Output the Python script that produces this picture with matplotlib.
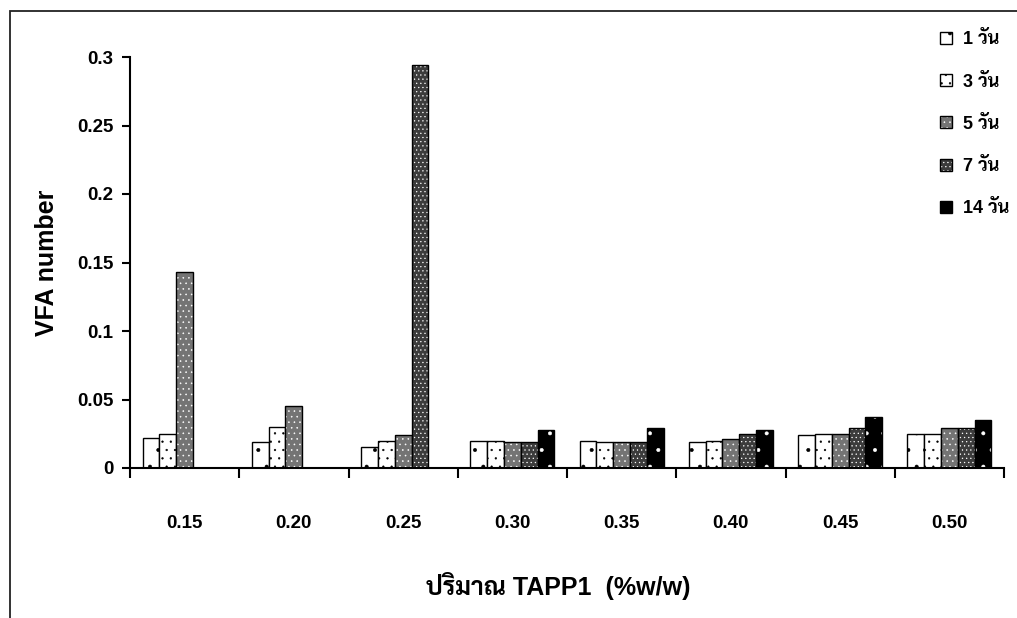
import numpy as np
import matplotlib
matplotlib.use('Agg')
import matplotlib.pyplot as plt
from matplotlib import font_manager
from matplotlib.patches import Patch, Rectangle

# VFA number vs. TAPP1 dose, one bar per storage time
doses = ['0.15', '0.20', '0.25', '0.30', '0.35', '0.40', '0.45', '0.50']
series = ['1 วัน', '3 วัน', '5 วัน', '7 วัน', '14 วัน']
day1 = [0.022, 0.019, 0.015, 0.020, 0.020, 0.019, 0.024, 0.025]
day3 = [0.025, 0.030, 0.020, 0.020, 0.019, 0.020, 0.025, 0.025]
day5 = [0.143, 0.045, 0.024, 0.019, 0.019, 0.021, 0.025, 0.029]
day7 = [np.nan, np.nan, 0.294, 0.019, 0.019, 0.025, 0.029, 0.029]
day14 = [np.nan, np.nan, np.nan, 0.028, 0.029, 0.028, 0.037, 0.035]
values = [day1, day3, day5, day7, day14]

# face colour, hatch, hatch colour for each series
styles = [
    ('white', '.', 'black'),
    ('white', '..', 'black'),
    ('#747474', '...', 'white'),
    ('#3c3c3c', '....', 'white'),
    ('black', '.', 'white'),
]

# Thai glyphs: take the first candidate that ships a bold face
candidates = ['Noto Sans Thai Looped', 'Noto Sans Thai', 'Sarabun', 'Prompt',
              'Kanit', 'Bai Jamjuree', 'Chakra Petch']
fonts = font_manager.fontManager.ttflist
thai = next((n for n in candidates
             if any(f.name == n and f.weight in (700, 'bold') for f in fonts)),
            None)
if thai is None:
    thai = next((n for n in candidates if any(f.name == n for f in fonts)),
                'DejaVu Sans')
plt.rcParams['font.family'] = ['Liberation Sans', thai]
plt.rcParams['font.weight'] = 'bold'
plt.rcParams['hatch.linewidth'] = 0.4

fig = plt.figure(figsize=(10.17, 6.18), dpi=100)
ax = fig.add_axes([130 / 1017, 1 - 468 / 618, 874 / 1017, 411 / 618])

x = np.arange(len(doses))
w = 1 / 6.5
handles = []
for j, (vals, (fc, hatch, hc)) in enumerate(zip(values, styles)):
    pos = x + (j - 2) * w
    ax.bar(pos, vals, w, color=fc, edgecolor=hc, hatch=hatch, linewidth=0)
    ax.bar(pos, vals, w, fill=False, edgecolor='black', linewidth=1.0)
    handles.append((Patch(facecolor=fc, edgecolor=hc, hatch=hatch, linewidth=0),
                    Patch(fill=False, edgecolor='black', linewidth=1.0)))

ax.set_xlim(-0.5, len(doses) - 0.5)
ax.set_ylim(0, 0.3)
ax.spines['top'].set_visible(False)
ax.spines['right'].set_visible(False)
for s in ('left', 'bottom'):
    ax.spines[s].set_linewidth(1.5)

ax.set_xticks(np.arange(len(doses) + 1) - 0.5)
ax.set_xticklabels([])
ax.tick_params(axis='x', which='major', direction='out', length=7, width=1.5)
ax.set_xticks(x, minor=True)
ax.set_xticklabels(doses, minor=True, fontsize=13.5, fontweight='bold')
ax.tick_params(axis='x', which='minor', length=0, pad=34)

yt = [0, 0.05, 0.1, 0.15, 0.2, 0.25, 0.3]
ax.set_yticks(yt)
ax.set_yticklabels(['0', '0.05', '0.1', '0.15', '0.2', '0.25', '0.3'],
                   fontsize=13.5, fontweight='bold')
ax.tick_params(axis='y', direction='out', length=6, width=1.5, pad=6)

fig.text(47 / 1017, 1 - 263 / 618, 'VFA number', rotation=90, ha='center',
         va='center', fontsize=18, fontweight='bold')
fig.text(558 / 1017, 1 - 586 / 618, 'ปริมาณ TAPP1  (%w/w)', ha='center',
         va='center', fontsize=18, fontweight='bold')

fig.legend(handles, series, loc='upper left',
           bbox_to_anchor=(924 / 1017, 1 - 15 / 618), frameon=False,
           handlelength=0.65, handleheight=0.65, handletextpad=0.6,
           labelspacing=1.4, prop={'size': 13, 'weight': 'bold'})

# outer chart border (open on the right and bottom)
fig.add_artist(Rectangle((10 / 1017, -0.2), 2, 0.2 + (618 - 10.5) / 618,
                         transform=fig.transFigure, fill=False,
                         edgecolor='#222222', linewidth=1.3))

fig.savefig('out.png', dpi=100)
